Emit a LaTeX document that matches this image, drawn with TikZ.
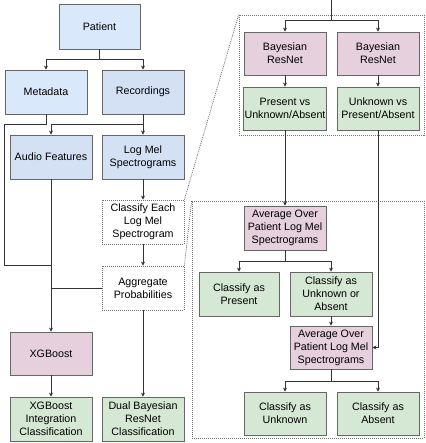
\documentclass[tikz,border=0pt]{standalone}
\usepackage{fontspec}
\setmainfont{Liberation Sans}
\usepackage{xcolor}
\usetikzlibrary{arrows.meta}
\definecolor{input blue}{HTML}{DAE8FC}
\definecolor{data blue}{HTML}{D4E1F5}
\definecolor{model pink}{HTML}{E6D0DE}
\definecolor{result green}{HTML}{D5E8D4}
\colorlet{box edge}{black!60}
\colorlet{link}{black!80}
\tikzset{block/.style={draw=box edge, line width=0.8pt, align=center,
        minimum width=82, minimum height=44, inner sep=1pt,
        font=\fontsize{10.7}{13}\selectfont},
    inputblock/.style={block, fill=input blue},
    datablock/.style={block, fill=data blue},
    modelblock/.style={block, fill=model pink},
    resultblock/.style={block, fill=result green},
    stageblock/.style={block, draw=black!55, dash pattern=on 1pt off 1pt, fill=white},
    zoomframe/.style={draw=black!55, line width=0.7pt, dash pattern=on 1pt off 1pt},
    zoomline/.style={draw=black!60, line width=0.7pt, dash pattern=on 1pt off 1pt},
    link/.style={draw=link, line width=0.7pt},
    arrow/.style={link, -{Stealth[length=4pt,width=4pt]}}}

\begin{document}
\begin{tikzpicture}[x=1pt, y=-1pt]
    \useasboundingbox (0,0) rectangle (425,443);
    % zoomed-in stages
    \node[zoomframe, minimum width=185, minimum height=120] (zoomtop) at (331.5,75) {};
    \node[zoomframe, minimum width=232, minimum height=237] (zoombot) at (308,319.5) {};

    % left pipeline
    \node[inputblock, minimum width=81, minimum height=45] (patient) at (99.5,26.5) {Patient};
    \node[inputblock] (meta) at (46,92) {Metadata};
    \node[datablock] (rec) at (143,92) {Recordings};
    \node[datablock] (audio) at (51,157) {Audio Features};
    \node[datablock] (logmel) at (143,157) {Log Mel\\Spectrograms};
    \node[stageblock] (classify) at (143,222) {Classify Each\\Log Mel\\Spectrogram};
    \node[stageblock] (aggr) at (143,288) {Aggregate\\Probabilities};
    \node[modelblock, minimum height=43] (xgb) at (51,353.5) {XGBoost};
    \node[resultblock] (xgbint) at (51,419) {XGBoost\\Integration\\Classification};
    \node[resultblock] (dual) at (143,419) {Dual Bayesian\\ResNet\\Classification};

    % upper zoom
    \coordinate (topin) at (331,0);
    \node[modelblock, minimum height=43] (bres1) at (285,53.5) {Bayesian\\ResNet};
    \node[modelblock, minimum height=43] (bres2) at (378,53.5) {Bayesian\\ResNet};
    \node[resultblock, minimum height=43] (pres) at (285,108.5) {Present vs\\Unknown/Absent};
    \node[resultblock, minimum height=43] (unk) at (378,108.5) {Unknown vs\\Present/Absent};

    % lower zoom
    \node[modelblock] (avg1) at (285,228) {Average Over\\Patient Log Mel\\Spectrograms};
    \node[resultblock, minimum width=80] (cpres) at (239,294) {Classify as\\Present};
    \node[resultblock] (cunk) at (331,294) {Classify as\\Unknown or\\Absent};
    \node[modelblock, minimum height=43] (avg2) at (331,347.5) {Average Over\\Patient Log Mel\\Spectrograms};
    \node[resultblock, minimum height=43] (cunkn) at (285,413.5) {Classify as\\Unknown};
    \node[resultblock, minimum height=43] (cabs) at (378,413.5) {Classify as\\Absent};

    \draw[arrow] (patient.south) -- ++(0,10) -| (meta.north);
    \draw[arrow] (patient.south) -- ++(0,10) -| (rec.north);
    \draw[arrow] (rec.south) -- (logmel.north);
    \draw[arrow] (rec.south) -- ++(0,10) -| (audio.north);
    \draw[link] (meta.south) -- ++(0,10) -| (4,265) -- (audio.south |- 0,265);
    \draw[link] (aggr.west) -- (aggr.west -| audio.south);
    \draw[arrow] (audio.south) -- (xgb.north);
    \draw[arrow] (xgb.south) -- (xgbint.north);
    \draw[arrow] (logmel.south) -- (classify.north);
    \draw[arrow] (classify.south) -- (aggr.north);
    \draw[arrow] (aggr.south) -- (dual.north);
    \draw[zoomline] (classify.north east) -- (zoomtop.north west);
    \draw[zoomline] (aggr.north east) -- (zoombot.north west);

    \draw[arrow] (topin) -- ++(0,20) -| (bres1.north);
    \draw[arrow] (topin) -- ++(0,20) -| (bres2.north);
    \draw[arrow] (bres1) -- (pres);
    \draw[arrow] (bres2) -- (unk);
    \draw[arrow] (pres.south) -- (avg1.north);
    \draw[arrow] (avg1.south) -- ++(0,11) -| (cpres.north);
    \draw[arrow] (avg1.south) -- ++(0,11) -| (cunk.north);
    \draw[arrow] (cunk.south) -- (avg2.north);
    \draw[arrow] (unk.south) |- (avg2.east);
    \draw[arrow] (avg2.south) -- ++(0,12) -| (cunkn.north);
    \draw[arrow] (avg2.south) -- ++(0,12) -| (cabs.north);
\end{tikzpicture}
\end{document}
